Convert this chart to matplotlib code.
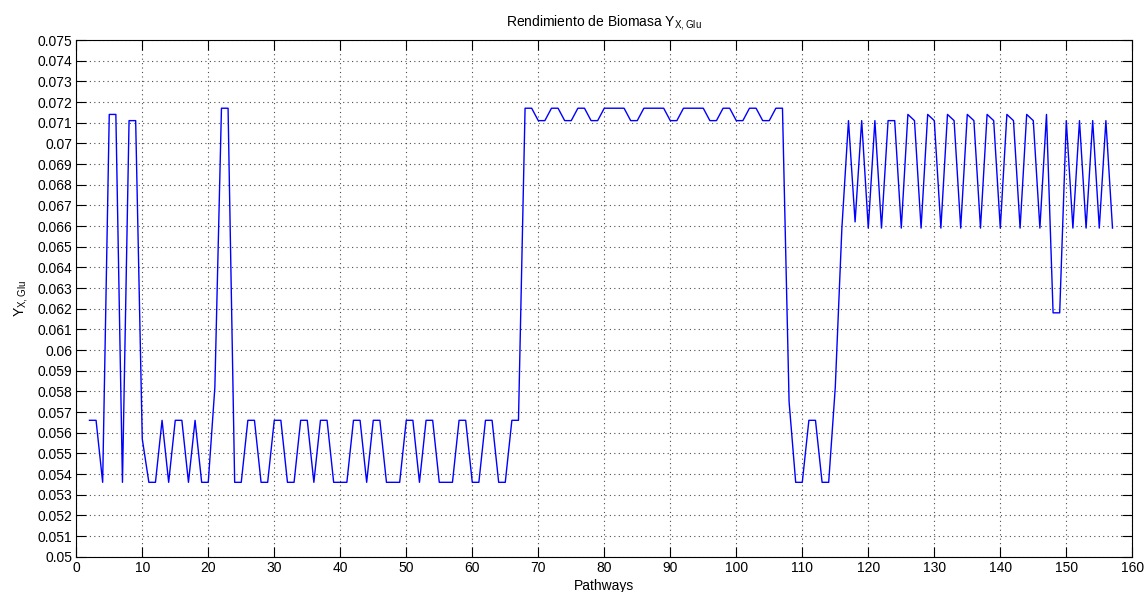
import matplotlib
matplotlib.use("Agg")
import matplotlib.pyplot as plt
from matplotlib.ticker import FuncFormatter, MultipleLocator
import numpy as np

plt.rcParams['font.family'] = ['Liberation Sans', 'DejaVu Sans']
plt.rcParams['mathtext.default'] = 'regular'

pathways = list(range(2, 158))
yields = [
    0.0566, 0.0566, 0.0536, 0.0714, 0.0714, 0.0536, 0.0711, 0.0711, 0.0557,   # 2-10
    0.0536, 0.0536, 0.0566, 0.0536, 0.0566, 0.0566, 0.0536, 0.0566, 0.0536, 0.0536,  # 11-20
    0.0582, 0.0717, 0.0717, 0.0536, 0.0536, 0.0566, 0.0566, 0.0536, 0.0536, 0.0566,  # 21-30
    0.0566, 0.0536, 0.0536, 0.0566, 0.0566, 0.0536, 0.0566, 0.0566, 0.0536, 0.0536,  # 31-40
    0.0536, 0.0566, 0.0566, 0.0536, 0.0566, 0.0566, 0.0536, 0.0536, 0.0536, 0.0566,  # 41-50
    0.0566, 0.0536, 0.0566, 0.0566, 0.0536, 0.0536, 0.0536, 0.0566, 0.0566, 0.0536,  # 51-60
    0.0536, 0.0566, 0.0566, 0.0536, 0.0536, 0.0566, 0.0566, 0.0717, 0.0717, 0.0711,  # 61-70
    0.0711, 0.0717, 0.0717, 0.0711, 0.0711, 0.0717, 0.0717, 0.0711, 0.0711, 0.0717,  # 71-80
    0.0717, 0.0717, 0.0717, 0.0711, 0.0711, 0.0717, 0.0717, 0.0717, 0.0717, 0.0711,  # 81-90
    0.0711, 0.0717, 0.0717, 0.0717, 0.0717, 0.0711, 0.0711, 0.0717, 0.0717, 0.0711,  # 91-100
    0.0711, 0.0717, 0.0717, 0.0711, 0.0711, 0.0717, 0.0717, 0.0575, 0.0536, 0.0536,  # 101-110
    0.0566, 0.0566, 0.0536, 0.0536, 0.0582, 0.0659, 0.0711, 0.0662, 0.0711, 0.0659,  # 111-120
    0.0711, 0.0659, 0.0711, 0.0711, 0.0659, 0.0714, 0.0711, 0.0659, 0.0714, 0.0711,  # 121-130
    0.0659, 0.0714, 0.0711, 0.0659, 0.0714, 0.0711, 0.0659, 0.0714, 0.0711, 0.0659,  # 131-140
    0.0714, 0.0711, 0.0659, 0.0714, 0.0711, 0.0659, 0.0714, 0.0618, 0.0618, 0.0711,  # 141-150
    0.0659, 0.0711, 0.0659, 0.0711, 0.0659, 0.0711, 0.0659,                          # 151-157
]

title = r'Rendimiento de Biomasa Y$_{X,Glu}$'
xlabel = 'Pathways'
ylabel = r'Y$_{X,Glu}$'

fig = plt.figure(figsize=(11.45, 5.92), dpi=100)
ax = fig.add_axes([0.0666, 0.0596, 0.9223, 0.8728])

ax.plot(pathways, yields, color=(0, 0, 1), linewidth=1.0)

ax.set_xlim(0, 160)
ax.set_ylim(0.05, 0.075)
ax.xaxis.set_major_locator(MultipleLocator(10))
ax.yaxis.set_major_locator(MultipleLocator(0.001))
ax.yaxis.set_major_formatter(FuncFormatter(lambda v, p: '%g' % round(v, 4)))
ax.xaxis.set_major_formatter(FuncFormatter(lambda v, p: '%g' % v))

ax.tick_params(direction='in', length=7.5, width=0.8, top=True, right=True,
               labelsize=10, colors='black', pad=3)
ax.grid(True, color='0.3', linestyle=(0, (1, 3)), linewidth=0.8)
for s in ax.spines.values():
    s.set_color('black')
    s.set_linewidth(0.8)

ax.set_title(title, fontsize=10, pad=10)
ax.set_xlabel(xlabel, fontsize=10, labelpad=3)
ax.set_ylabel(ylabel, fontsize=10, labelpad=5)

fig.savefig('out.png', dpi=100)
